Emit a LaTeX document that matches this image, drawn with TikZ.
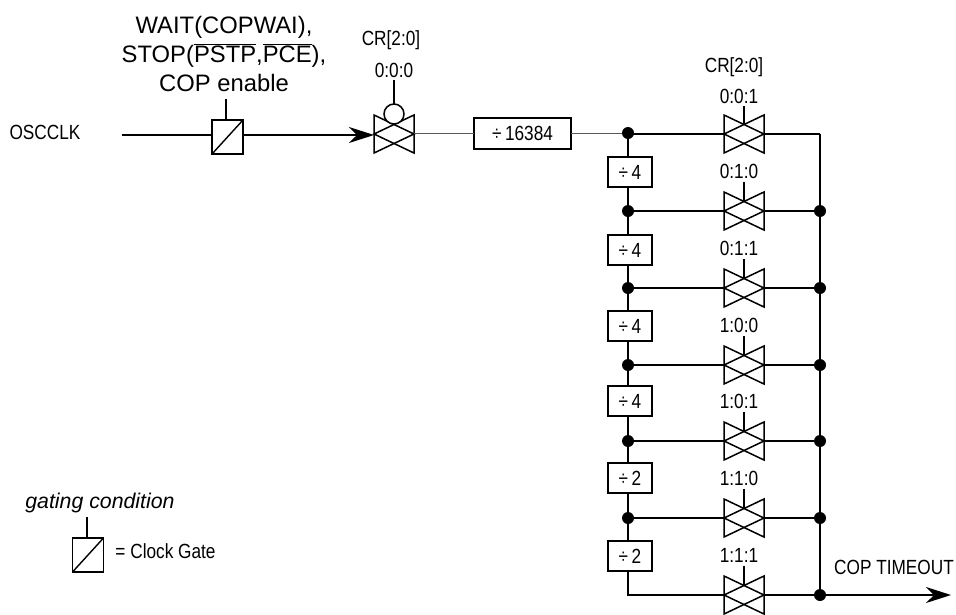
\documentclass[tikz,border=0pt]{standalone}
\usepackage{fontspec}
\usepackage{tikz}
\usetikzlibrary{arrows.meta,calc}
\setmainfont{Liberation Sans}
\newfontfamily\narrowfont[FakeStretch=0.84]{Liberation Sans}

\tikzset{
    wire/.style={line width=1.5pt},
    thinwire/.style={line width=1pt, black!65},
    bigtip/.style={-{Stealth[length=25pt,width=16pt,inset=8pt]}},
    gatebox/.style={minimum width=40pt, minimum height=38pt, inner sep=0pt, outer sep=0pt},
    ckbox/.style={draw, line width=1.5pt, minimum width=31pt, minimum height=34pt, inner sep=0pt, outer sep=0pt},
    divbox/.style={draw, line width=1.5pt, minimum width=44pt, minimum height=30pt, inner sep=0pt, outer sep=0pt, narrowlabel},
    dotmark/.style={circle, fill=black, minimum size=12pt, inner sep=0pt, outer sep=0pt},
    narrowlabel/.style={font=\fontsize{20.5}{24}\selectfont\narrowfont},
    ratelabel/.style={narrowlabel, inner sep=0pt, text height=14.7pt, text depth=0pt, outer ysep=3pt},
    widelabel/.style={font=\fontsize{23.8}{29}\selectfont, align=center, inner sep=0pt}
}

% transmission gate: two overlapping triangles
\newcommand{\swgate}[2]{
    \node[gatebox] (#1) at (#2) {};
    \draw[line width=1.5pt] (#1.north west) -- (#1.east) -- (#1.south west) -- cycle;
    \draw[line width=1.5pt] (#1.north east) -- (#1.west) -- (#1.south east) -- cycle;
}
% clock gate: box with a diagonal
\newcommand{\ckgate}[2]{
    \node[ckbox] (#1) at (#2) {};
    \draw[line width=1.4pt] (#1.south west) -- (#1.north east);
}
\newcommand{\divmark}{÷\hspace{3.5pt}}

\begin{document}
\begin{tikzpicture}[x=1pt,y=-1pt]
    \useasboundingbox (0,0) rectangle (956,614);

    % Input side
    \node[narrowlabel] (osc) at (45,132) {OSCCLK};
    \coordinate (oscin) at (122,135);
    \ckgate{ckmain}{227.5,137}
    \swgate{gate0}{394,134}
    \draw[wire] (oscin) -- (oscin -| ckmain.west);
    \draw[wire, bigtip] (oscin -| ckmain.east) -- (oscin -| gate0.west);

    % Gating condition
    \node[widelabel] (cond) at (224,54) {WAIT(COPWAI),\\STOP($\overline{\hbox{PSTP}}$,$\overline{\hbox{PCE}}$),\\COP enable};
    \coordinate (condend) at (226,99);
    \draw[wire] (condend) -- (condend |- ckmain.north);

    % Enable of first gate
    \node[narrowlabel] (crtop) at (391,40) {CR[2:0]};
    \node[ratelabel] (sel0) at (394,70) {0:0:0};
    \node[circle, draw, line width=1.5pt, minimum size=20pt, inner sep=0pt, outer sep=0pt, fill=white] (inv) at (394,114) {};
    \draw[wire] (sel0.south) -- (inv.north);

    % Main divider
    \node[divbox, minimum width=97pt, minimum height=31pt] (divmain) at (522.5,133.5) {\divmark 16384};
    \node[dotmark] (tap0) at (628,133) {};
    \draw[thinwire] (gate0.east |- tap0) -- (tap0 -| divmain.west);
    \draw[thinwire] (tap0 -| divmain.east) -- (tap0);

    % Top output row
    \node[narrowlabel] (crout) at (734,67) {CR[2:0]};
    \swgate{gate1}{744,134}
    \node[ratelabel] (sel1) at (739,96) {0:0:1};
    \draw[wire] (sel1.south -| gate1) -- ($(gate1.north)!0.5!(gate1.center)$);
    \coordinate (busTop) at (820,134);
    \draw[wire] (tap0 |- gate1.west) -- (gate1.west);
    \draw[wire] (gate1.east) -- (busTop);

    % Divider chain
    \foreach \n/\y/\lab in {2/172/4, 3/250/4, 4/326/4, 5/401/4, 6/478/2, 7/556/2} {
        \node[divbox] (div\n) at (630,\y) {\divmark\lab};
    }

    % Output rows
    \foreach \n/\y/\lab in {2/211/0:1:0, 3/288/0:1:1, 4/365/1:0:0, 5/441/1:0:1, 6/518/1:1:0, 7/595/1:1:1} {
        \swgate{gate\n}{744,\y}
        \node[ratelabel] (sel\n) at (739,\y-39.5) {\lab};
        \draw[wire] (sel\n.south -| gate\n) -- ($(gate\n.north)!0.5!(gate\n.center)$);
        \node[dotmark] (out\n) at (820,\y) {};
        \draw[wire] (gate\n.east) -- (out\n);
    }
    \foreach \n/\y in {2/211, 3/288, 4/365, 5/441, 6/518} {
        \node[dotmark] (tap\n) at (628,\y) {};
        \draw[wire] (tap\n) -- (gate\n.west);
        \draw[wire] (tap\n) -- (tap\n |- div\n.south);
    }
    % Verticals between dividers and taps
    \draw[wire] (tap0) -- (tap0 |- div2.north);
    \draw[wire] (tap2) -- (tap2 |- div3.north);
    \draw[wire] (tap3) -- (tap3 |- div4.north);
    \draw[wire] (tap4) -- (tap4 |- div5.north);
    \draw[wire] (tap5) -- (tap5 |- div6.north);
    \draw[wire] (tap6) -- (tap6 |- div7.north);
    \draw[wire] (tap6 |- div7.south) |- (gate7.west);

    % Output bus
    \draw[wire] (busTop) -- (busTop |- out7);
    \coordinate (timeout) at (951,595);
    \draw[wire, bigtip] (out7) -- (timeout);
    \node[narrowlabel] (coplab) at (894,567) {COP TIMEOUT};

    % Legend
    \node[font=\fontsize{21.3}{25}\selectfont\itshape, inner sep=0pt] (legtext) at (100,503) {gating condition};
    \ckgate{cklegend}{88,555}
    \coordinate (legend) at (87,517);
    \draw[wire] (legend) -- (legend |- cklegend.north);
    \node[narrowlabel] (legname) at (165.5,551) {= Clock Gate};
\end{tikzpicture}
\end{document}
